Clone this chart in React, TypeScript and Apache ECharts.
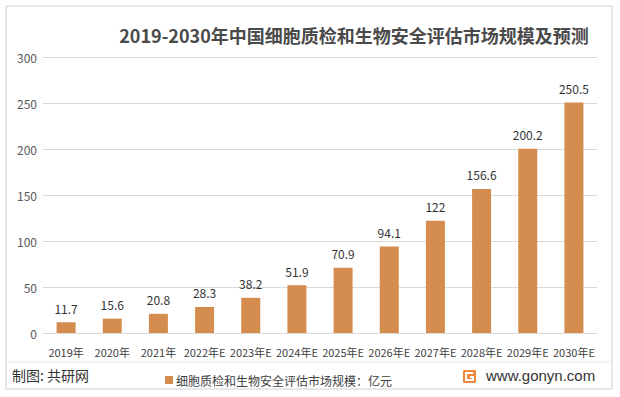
import React, { useEffect, useRef } from "react";
import * as echarts from "echarts";

const categories = ["2019年", "2020年", "2021年", "2022年E", "2023年E", "2024年E", "2025年E", "2026年E", "2027年E", "2028年E", "2029年E", "2030年E"];
const values = [11.7, 15.6, 20.8, 28.3, 38.2, 51.9, 70.9, 94.1, 122, 156.6, 200.2, 250.5];
const seriesName = "细胞质检和生物安全评估市场规模：亿元";
const titleText = "2019-2030年中国细胞质检和生物安全评估市场规模及预测";

const FONT = "'Microsoft YaHei', 'Noto Sans CJK SC', 'Noto Sans', sans-serif";

export default function App() {
  const ref = useRef<HTMLDivElement>(null);
  useEffect(() => {
    if (!ref.current) return;
    const chart = echarts.init(ref.current, undefined, { renderer: "svg" });
    chart.setOption({
      animation: false,
      backgroundColor: "#ffffff",
      textStyle: { fontFamily: FONT },
      title: {
        text: titleText,
        left: 349,
        top: 21,
        textAlign: "center",
        textStyle: { fontSize: 18, fontWeight: "bold", color: "#4a4a4a", fontFamily: FONT },
      },
      grid: { left: 43, right: 23, top: 57, bottom: 64 },
      xAxis: {
        type: "category",
        data: categories,
        axisLine: { lineStyle: { color: "#d9d9d9" } },
        axisTick: { show: false },
        axisLabel: { color: "#404040", fontSize: 11, margin: 13, interval: 0, fontFamily: FONT },
      },
      yAxis: {
        type: "value",
        min: 0,
        max: 300,
        interval: 50,
        axisLine: { show: false },
        axisTick: { show: false },
        axisLabel: { color: "#595959", fontSize: 12, margin: 6, fontFamily: FONT },
        splitLine: { lineStyle: { color: "#d9d9d9" } },
      },
      legend: {
        left: 160,
        top: 369,
        itemWidth: 8,
        itemHeight: 8,
        itemGap: 4,
        icon: "rect",
        textStyle: { color: "#404040", fontSize: 12, fontFamily: FONT, padding: [0, 0, 0, -2] },
        data: [seriesName],
      },
      series: [
        {
          name: seriesName,
          type: "bar",
          data: values,
          barWidth: 19,
          itemStyle: { color: "#D58D4F" },
          label: {
            show: true,
            position: "top",
            distance: 8,
            color: "#333333",
            fontSize: 12,
            fontFamily: FONT,
          },
        },
      ],
      graphic: [
        {
          type: "rect",
          shape: { x: 6, y: 6, width: 606, height: 383 },
          style: { fill: "none", stroke: "#d0d0d0", lineWidth: 1 },
          silent: true,
        },
        {
          type: "line",
          shape: { x1: 6, y1: 362, x2: 612, y2: 362 },
          style: { stroke: "#e6e6e6", lineWidth: 1 },
          silent: true,
        },
        {
          type: "text",
          left: 12,
          top: 368,
          style: { text: "制图: 共研网", fill: "#333333", fontSize: 14, fontFamily: FONT },
        },
        {
          type: "rect",
          shape: { x: 463, y: 370, width: 13, height: 13, r: 1 },
          style: { fill: "#F08A3A" },
        },
        {
          type: "polyline",
          shape: { points: [[473, 373], [466, 373], [466, 380], [473, 380], [473, 377], [470, 377]] },
          style: { stroke: "#ffffff", lineWidth: 2, fill: "none" },
        },
        {
          type: "text",
          left: 486,
          top: 368,
          style: { text: "www.gonyn.com", fill: "#333333", fontSize: 15, fontFamily: "Arial, 'Liberation Sans', sans-serif" },
        },
      ],
    });
    return () => chart.dispose();
  }, []);
  return <div ref={ref} style={{ position: "absolute", left: 0, top: 0, width: 620, height: 397 }} />;
}
